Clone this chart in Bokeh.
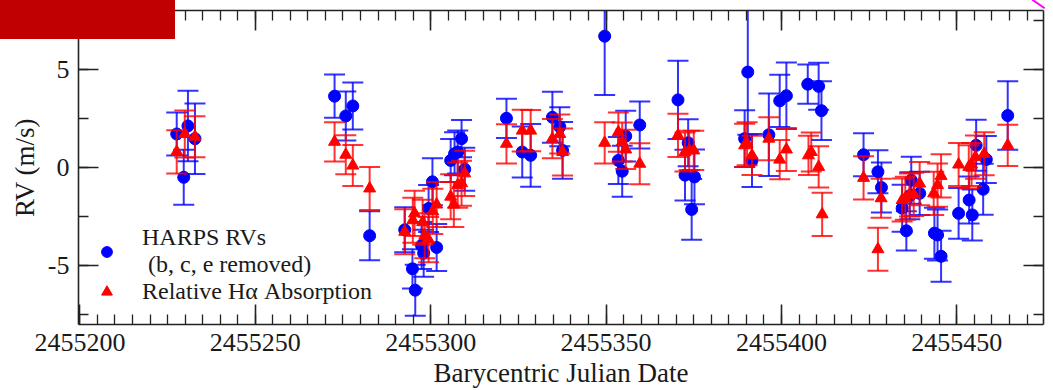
from bokeh.plotting import figure
from bokeh.models import (Range1d, LinearAxis, SingleIntervalTicker, BasicTickFormatter,
                          Legend, LegendItem, ColumnDataSource, InlineStyleSheet)
from bokeh.embed import file_html
from bokeh.resources import INLINE

# ---------------- data ----------------
harps_bjd = [2455227.6, 2455229.6, 2455230.8, 2455232.8,
             2455272.6, 2455275.8, 2455277.8, 2455282.6,
             2455292.6, 2455294.8, 2455295.6, 2455297.4, 2455298.0, 2455299.4, 2455300.5,
             2455301.7, 2455305.7, 2455306.8, 2455307.7, 2455308.8, 2455309.7,
             2455321.6, 2455326.1, 2455328.5, 2455334.7, 2455336.8, 2455337.6, 2455349.6,
             2455353.5, 2455354.6, 2455355.6, 2455359.6,
             2455370.5, 2455372.5, 2455373.4, 2455374.4, 2455375.2, 2455389.5, 2455390.4,
             2455391.6, 2455396.4, 2455399.5, 2455401.4, 2455407.5, 2455410.6, 2455411.4,
             2455423.4, 2455427.5, 2455428.5, 2455434.4, 2455435.6, 2455436.6, 2455437.0,
             2455439.4, 2455443.6, 2455444.5, 2455445.5, 2455450.5, 2455453.5, 2455454.4,
             2455455.5, 2455457.5, 2455458.4, 2455464.5]
harps_rv = [1.70, -0.51, 2.11, 1.46,
            3.63, 2.62, 3.13, -3.49,
            -3.19, -5.18, -6.27, -3.99, -4.38, -2.10, -0.74,
            -4.09, 0.35, 0.69, 0.78, 1.46, -0.10,
            2.50, 0.78, 0.61, 2.55, 2.07, 0.86, 6.69,
            0.35, -0.20, 1.59, 2.16,
            3.44, -0.40, 1.25, -2.15, -0.49, 1.46, 4.86,
            0.35, 1.66, 3.39, 3.65, 4.24, 4.13, 2.89,
            0.64, -0.23, -1.03, -2.09, -3.24, -1.45, -0.66,
            -1.33, -3.36, -3.45, -4.54, -2.35, -1.67, -2.43,
            1.12, -1.12, 0.40, 2.64]
harps_err = [1.1, 1.4, 1.8, 1.8,
             1.1, 1.25, 1.2, 1.25,
             1.15, 1.0, 1.3, 1.2, 1.2, 1.2, 1.2,
             1.2, 1.1, 1.1, 1.1, 0.95, 1.1,
             1.0, 1.3, 1.6, 1.3, 1.0, 1.45, 3.0,
             1.2, 1.3, 1.3, 1.2,
             2.0, 1.3, 1.2, 1.55, 1.4, 1.45, 3.2,
             1.35, 2.1, 1.33, 1.7, 1.0, 1.2, 1.5,
             1.1, 1.1, 1.28, 1.2, 1.0, 1.2, 1.2,
             1.1, 1.3, 1.3, 1.3, 1.3, 1.2, 1.3,
             1.3, 1.3, 1.2, 1.75]

halpha_bjd = [2455227.6, 2455229.9, 2455232.8,
              2455272.6, 2455275.8, 2455277.8, 2455282.6,
              2455292.6, 2455294.9, 2455295.4, 2455297.7, 2455298.3, 2455299.4, 2455300.6,
              2455301.7, 2455305.7, 2455306.6, 2455307.7, 2455308.8, 2455309.7,
              2455321.6, 2455326.1, 2455328.5, 2455334.7, 2455336.8, 2455337.6, 2455349.6,
              2455353.5, 2455354.6, 2455355.6, 2455359.6,
              2455370.5, 2455372.5, 2455373.7, 2455375.0, 2455389.5, 2455390.2, 2455391.6,
              2455396.4, 2455399.5, 2455401.4, 2455407.7, 2455408.5, 2455410.6, 2455411.6,
              2455423.4, 2455427.5, 2455428.4, 2455434.4, 2455435.3, 2455436.5, 2455437.7,
              2455439.4, 2455443.4, 2455444.5, 2455445.5, 2455450.5, 2455453.4, 2455454.2,
              2455455.3, 2455457.8, 2455464.5]
halpha_val = [0.79, 1.70, 1.56,
              1.30, 0.64, 0.09, -1.08,
              -3.29, -2.70, -2.35, -2.80, -3.49, -3.69, -2.25,
              -1.90, -1.50, -1.90, -0.91, -0.81, -0.31,
              1.20, 1.87, 1.87, 1.46, 1.70, 0.78, 1.25,
              1.79, 1.29, 0.91, 0.18,
              1.63, 0.78, 0.86, 0.86, 1.12, 1.20, 0.61,
              1.46, 0.39, 0.91, 0.61, 0.78, 0.02, -2.40,
              -0.54, -4.18, -1.58, -1.67, -1.58, -1.41, -1.38,
              -0.83, -1.33, -0.91, -0.44, 0.14, 0.02, 0.14,
              0.52, 0.69, 1.12]
halpha_err = [1.1, 1.2, 1.05,
              1.0, 1.0, 1.05, 1.1,
              1.15, 1.15, 1.15, 1.15, 1.15, 1.15, 1.15,
              1.15, 1.15, 1.15, 1.15, 1.15, 1.15,
              1.0, 1.07, 1.05, 1.0, 1.0, 1.2, 1.05,
              1.0, 1.0, 1.0, 1.05,
              1.1, 1.0, 1.0, 1.0, 1.1, 1.1, 1.0,
              1.1, 1.0, 1.1, 1.0, 1.0, 1.05, 1.1,
              1.1, 1.1, 1.0, 1.1, 1.1, 1.1, 1.1,
              1.1, 1.1, 1.1, 1.1, 1.1, 1.1, 1.1,
              1.1, 1.1, 1.05]

x_tick_interval = 50
y_tick_interval = 5
y_tick_labels = {-5: "-5", 0: "0", 5: "5"}

BLUE = "#0000ff"
RED = "#ff0000"
FONT = "Liberation Serif"
INK = "#1a1a1a"

blue_src = ColumnDataSource(dict(
    t=harps_bjd, v=harps_rv,
    lo=[v - e for v, e in zip(harps_rv, harps_err)],
    hi=[v + e for v, e in zip(harps_rv, harps_err)]))
red_src = ColumnDataSource(dict(
    t=halpha_bjd, v=halpha_val,
    lo=[v - e for v, e in zip(halpha_val, halpha_err)],
    hi=[v + e for v, e in zip(halpha_val, halpha_err)]))

# red banner in the top-left corner and small magenta stroke at top-right (page decorations)
deco = InlineStyleSheet(css="""
:host { position: relative; }
:host::after { content: ""; position: absolute; left: 0px; top: 0px; width: 175px; height: 39px;
               background: #c00000; z-index: 50; pointer-events: none; }
:host::before { content: ""; position: absolute; left: 1031px; top: 3px; width: 15px; height: 2px;
                background: #ff00ff; transform: rotate(35deg); z-index: 50; pointer-events: none; }
""")

p = figure(width=1053, height=390, output_backend="svg", toolbar_location=None,
           x_range=Range1d(2455199.6, 2455474.7), y_range=Range1d(-8.02, 8.0),
           x_axis_type=None, y_axis_type=None,
           min_border_left=78, min_border_right=10, min_border_top=10, min_border_bottom=63,
           stylesheets=[deco])
p.outline_line_color = None
p.background_fill_color = "white"
p.border_fill_color = "white"


def style_axis(ax, show_labels=True):
    ax.major_tick_in = 20
    ax.major_tick_out = 0
    ax.minor_tick_in = 10
    ax.minor_tick_out = 0
    ax.axis_line_width = 1.6
    ax.axis_line_color = "#222222"
    ax.major_tick_line_width = 1.6
    ax.major_tick_line_color = "#222222"
    ax.minor_tick_line_width = 1.3
    ax.minor_tick_line_color = "#222222"
    ax.major_label_text_font = FONT
    ax.major_label_text_color = INK
    ax.axis_label_text_font = FONT
    ax.axis_label_text_font_style = "normal"
    ax.axis_label_text_color = INK
    ax.axis_label_text_font_size = "27px"
    if show_labels:
        ax.major_label_text_font_size = "26px"
    else:
        ax.major_label_text_font_size = "1px"
        ax.major_label_text_color = None
        ax.major_label_standoff = 0


xticker = SingleIntervalTicker(interval=x_tick_interval, num_minor_ticks=10)
yticker = SingleIntervalTicker(interval=y_tick_interval, num_minor_ticks=2)

xb = LinearAxis(ticker=xticker, formatter=BasicTickFormatter(use_scientific=False),
                axis_label="Barycentric Julian Date")
style_axis(xb)
xb.major_label_standoff = 9
xb.axis_label_standoff = 4
p.add_layout(xb, "below")

yl = LinearAxis(ticker=yticker, axis_label="RV (m/s)")
style_axis(yl)
yl.major_label_overrides = y_tick_labels
yl.major_label_standoff = 9
yl.axis_label_standoff = 5
p.add_layout(yl, "left")

xt = LinearAxis(ticker=xticker)
style_axis(xt, show_labels=False)
p.add_layout(xt, "above")

yr = LinearAxis(ticker=yticker)
style_axis(yr, show_labels=False)
p.add_layout(yr, "right")

# HARPS RVs
p.segment(x0="t", y0="lo", x1="t", y1="hi", source=blue_src, line_color=BLUE, line_width=2, line_alpha=0.8)
p.scatter(x="t", y="lo", source=blue_src, marker="dash", size=21, line_color=BLUE, line_width=2, line_alpha=0.8)
p.scatter(x="t", y="hi", source=blue_src, marker="dash", size=21, line_color=BLUE, line_width=2, line_alpha=0.8)
blue_r = p.scatter(x="t", y="v", source=blue_src, marker="circle", size=12,
                   fill_color=BLUE, line_color=BLUE)

# Relative H-alpha absorption
p.segment(x0="t", y0="lo", x1="t", y1="hi", source=red_src, line_color=RED, line_width=2, line_alpha=0.8)
p.scatter(x="t", y="lo", source=red_src, marker="dash", size=21, line_color=RED, line_width=2, line_alpha=0.8)
p.scatter(x="t", y="hi", source=red_src, marker="dash", size=21, line_color=RED, line_width=2, line_alpha=0.8)
red_r = p.scatter(x="t", y="v", source=red_src, marker="triangle", size=12,
                  fill_color=RED, line_color=RED)

legend = Legend(items=[LegendItem(label="HARPS RVs\n (b, c, e removed)", renderers=[blue_r]),
                       LegendItem(label="Relative H\u03b1 Absorption", renderers=[red_r])],
                location=(15, 19), glyph_width=27, glyph_height=27, label_standoff=22,
                label_text_font=FONT, label_text_font_size="24px", label_text_color=INK,
                label_text_line_height=1.0,
                padding=0, margin=0, spacing=0, border_line_color=None,
                background_fill_alpha=0)
p.add_layout(legend)

open("out.html", "w").write(file_html(p, INLINE))
